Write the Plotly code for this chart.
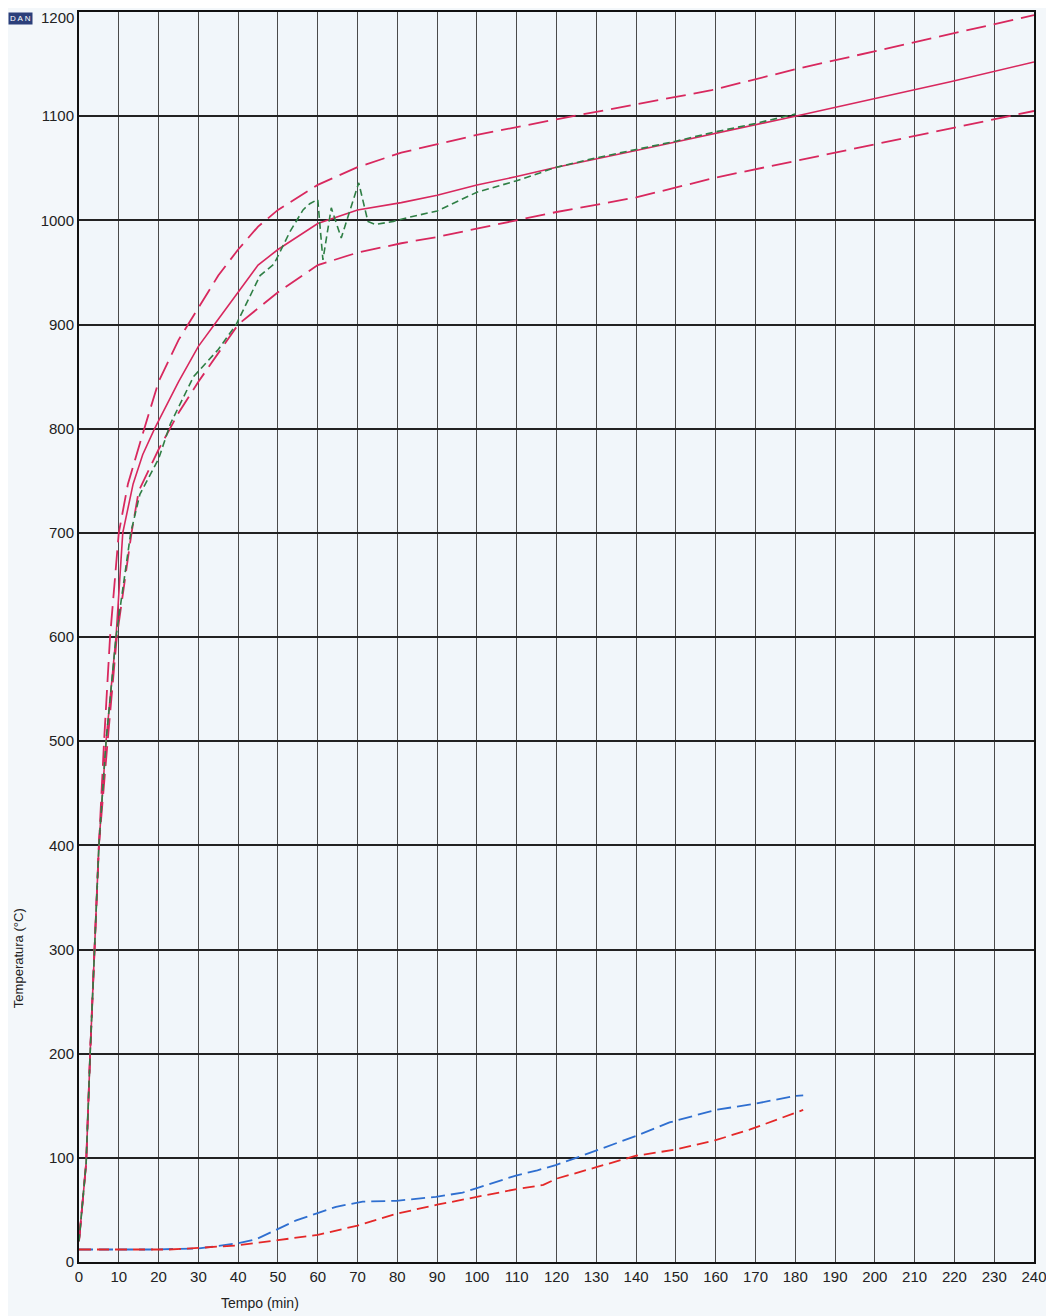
import plotly.graph_objects as go

# Standard fire curve (solid)
std_t = [0, 1.8, 2.8, 3.9, 5, 6.8, 9.3, 11, 13.6, 16, 19, 25, 30, 35, 40, 45, 50, 60, 70, 81, 90, 100, 110, 120, 140, 180, 219, 240]
std_T = [20, 95, 200, 300, 400, 500, 600, 700, 747, 775, 800, 845, 879, 905, 931, 957, 972, 997, 1010, 1017, 1024, 1034, 1042, 1051, 1067, 1100, 1133, 1152]

# Upper tolerance (dashed)
up_t = [0, 1.8, 2.8, 3.9, 5, 6.3, 7.8, 10, 12.3, 16.4, 20, 25, 30, 35, 40, 45, 50, 60, 70, 81, 100, 120, 159, 180, 240]
up_T = [20, 95, 200, 300, 400, 500, 600, 700, 747, 800, 845, 885, 916, 947, 972, 994, 1010, 1034, 1051, 1065, 1082, 1097, 1125, 1145, 1197]

# Lower tolerance (dashed)
lo_t = [0, 1.8, 2.8, 3.9, 5, 7.2, 9.5, 13.2, 15, 20, 25, 30, 40, 50, 60, 70, 81, 90, 100, 120, 140, 160, 180, 240]
lo_T = [20, 95, 200, 300, 400, 500, 600, 700, 740, 780, 815, 845, 900, 931, 957, 969, 978, 984, 992, 1008, 1022, 1041, 1057, 1105]

# Measured furnace temperature (green)
gr_t = [0, 1.8, 2.8, 3.9, 5, 6.8, 9.3, 13, 15.3, 20, 23, 28.8, 32, 35, 39.5, 45.5, 49, 53, 56.3, 58, 60, 61.3, 63.4, 65.9,
        70.3, 72.6, 74.5, 79, 83, 90, 100, 110, 120, 130, 140, 150, 160, 170, 180]
gr_T = [20, 95, 200, 300, 400, 500, 600, 700, 737, 771, 805, 850, 863, 876, 900, 947, 958, 989, 1010, 1016, 1020, 962, 1012, 983,
        1036, 999, 996, 999, 1003, 1009, 1027, 1038, 1051, 1060, 1068, 1076, 1085, 1093, 1102]

# Unexposed side thermocouples
bl_t = [0, 17.8, 30, 40, 44.6, 51.3, 54.6, 59.6, 64.6, 71.3, 79.7, 89.7, 96.4, 100, 109.8, 115.2, 119.8, 125.7, 130, 140,
        148.4, 153.5, 160, 170, 180, 182]
bl_T = [12, 12, 13, 18, 22, 34, 40, 46.5, 53, 58, 58.7, 62.5, 66.6, 71, 83, 88, 93, 101, 107, 121, 134, 139, 146, 152, 159.5, 160]

rd_t = [0, 22.6, 30, 40, 50, 60, 70, 80, 90, 100, 110, 116.7, 120, 130, 140, 150, 160, 168.5, 180, 182]
rd_T = [12, 12, 13.5, 16, 21, 26, 35, 46.5, 55, 62.5, 70, 74, 80, 91, 102, 108, 117, 127, 143, 146]

x_ticks = list(range(0, 241, 10))
y_ticks = list(range(0, 1201, 100))
y_ticktext = [str(v) if v < 1200 else "" for v in y_ticks]

PINK = "#d8285e"
fig = go.Figure()

for xs, ys in [(up_t, up_T), (lo_t, lo_T)]:
    fig.add_trace(go.Scatter(x=xs, y=ys, mode="lines",
                             line=dict(color=PINK, width=1.8, dash="20px,8px"),
                             hoverinfo="skip", showlegend=False))
fig.add_trace(go.Scatter(x=std_t, y=std_T, mode="lines",
                         line=dict(color=PINK, width=1.6), showlegend=False))
fig.add_trace(go.Scatter(x=gr_t, y=gr_T, mode="lines",
                         line=dict(color="#2f7f45", width=1.6, dash="7px,4px"), showlegend=False))
fig.add_trace(go.Scatter(x=bl_t, y=bl_T, mode="lines",
                         line=dict(color="#2f6fd0", width=1.8, dash="14px,6px"), showlegend=False))
fig.add_trace(go.Scatter(x=rd_t, y=rd_T, mode="lines",
                         line=dict(color="#e42828", width=1.8, dash="12px,6px"), showlegend=False))

axis_font = dict(family="Liberation Sans, Arial, sans-serif", size=15, color="#222")

fig.update_layout(
    width=1046, height=1308,
    margin=dict(l=71, r=20, t=4, b=54, autoexpand=False),
    paper_bgcolor="#f3f7fa",
    plot_bgcolor="#f1f6fa",
    font=axis_font,
    xaxis=dict(range=[0, 240], tickmode="array", tickvals=x_ticks, ticktext=[str(v) for v in x_ticks],
               showgrid=True, gridcolor="#4a4a4a", gridwidth=1, zeroline=False,
               showline=True, linecolor="#111", linewidth=2, mirror=True, automargin=False,
               ticks="", tickfont=axis_font, ticklabeloverflow="allow"),
    yaxis=dict(range=[0, 1200], tickmode="array", tickvals=y_ticks, ticktext=y_ticktext,
               showgrid=True, gridcolor="#222", gridwidth=1.5, zeroline=False,
               showline=True, linecolor="#111", linewidth=2, mirror=True, automargin=False,
               ticks="", tickfont=axis_font, ticklabeloverflow="allow"),
    annotations=[
        dict(text="1200", xref="paper", yref="paper", x=0, y=1.0, xanchor="right", yanchor="middle",
             xshift=-3, yshift=-5, showarrow=False, font=axis_font),
        dict(text="Temperatura (°C)", xref="paper", yref="paper", x=-0.064, y=0.243,
             xanchor="center", yanchor="middle",
             textangle=-90, showarrow=False, font=dict(family="Liberation Sans, Arial, sans-serif", size=13, color="#222")),
        dict(text="Tempo (min)", xref="paper", yref="paper", x=0.19, y=-0.033,
             xanchor="center", yanchor="middle",
             showarrow=False, font=dict(family="Liberation Sans, Arial, sans-serif", size=14, color="#222")),
        dict(text="D A N", xref="paper", yref="paper", x=-0.074, y=1.0, xanchor="left", yanchor="top",
             showarrow=False, bgcolor="#2b3f7a", font=dict(family="Liberation Sans, Arial", size=8, color="#ffffff")),
    ],
)

fig.write_html("out.html")
